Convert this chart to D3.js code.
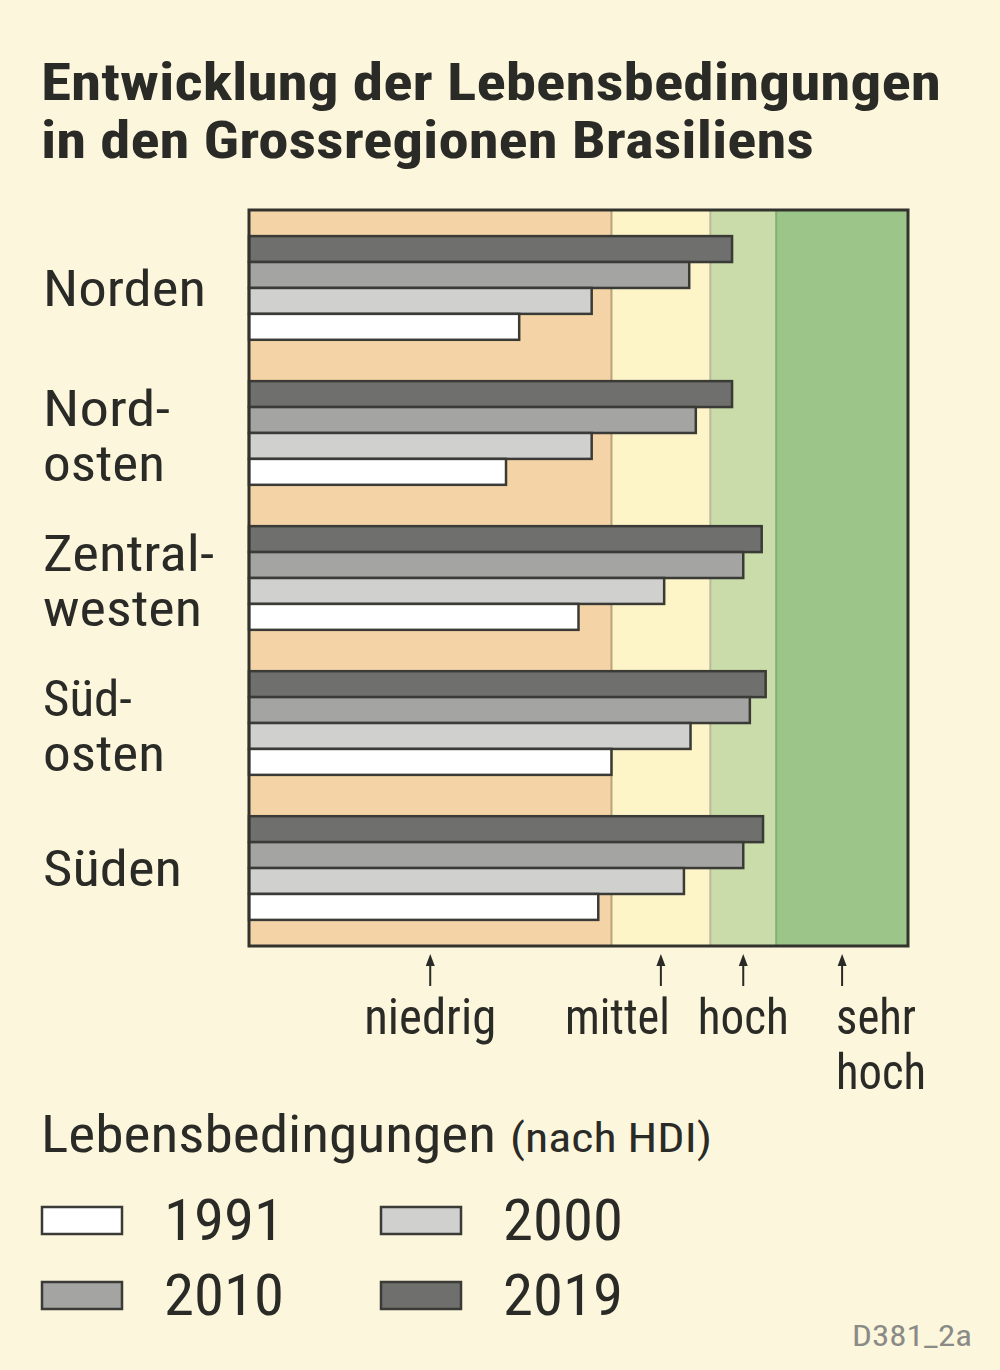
<!DOCTYPE html>
<html>
<head>
<meta charset="utf-8">
<script src="https://cdn.jsdelivr.net/npm/d3@7"></script>
<style>
  body { margin: 0; background: #fcf6dc; }
  text { font-family: "Liberation Sans Narrow", "Roboto Condensed", "DejaVu Sans Condensed", "Liberation Sans", sans-serif; fill: #2a2a26; }
</style>
</head>
<body>
<div id="container"></div>
<script>
// data (HDI values)
let regions = ["Norden", "Nordosten", "Zentralwesten", "Südosten", "Süden"];
let regionLines = [["Norden"], ["Nord-", "osten"], ["Zentral-", "westen"], ["Süd-", "osten"], ["Süden"]];
let years = ["2019", "2010", "2000", "1991"];
let hdi1991 = [0.41, 0.39, 0.50, 0.55, 0.53];
let hdi2000 = [0.52, 0.52, 0.63, 0.67, 0.66];
let hdi2010 = [0.668, 0.678, 0.750, 0.760, 0.750];
let hdi2019 = [0.733, 0.733, 0.778, 0.784, 0.780];
let zoneNames = ["niedrig", "mittel", "hoch", "sehr hoch"];
let zoneBreaks = [0, 0.55, 0.7, 0.8, 1.0];

let byYear = {"1991": hdi1991, "2000": hdi2000, "2010": hdi2010, "2019": hdi2019};
let yearColor = {"2019": "#6f6f6d", "2010": "#a4a4a3", "2000": "#d0d0cf", "1991": "#ffffff"};
let zoneColor = ["#f4d4a6", "#fdf4c8", "#c9dca9", "#9cc689"];
let zoneLine = ["#b9a27c", "#bdb99a", "#86ad72", null];

let W = 1000, H = 1370;
let plot = {left: 249, right: 908, top: 210, bottom: 946};

let svg = d3.select("#container").append("svg")
    .attr("width", W).attr("height", H);

svg.append("rect").attr("width", W).attr("height", H).attr("fill", "#fcf6dc");

// title
let title = [["Entwicklung der Lebensbedingungen", 100, 900], ["in den Grossregionen Brasiliens", 158, 773]];
svg.selectAll(".title").data(title).enter().append("text")
    .attr("class", "title")
    .attr("x", 41).attr("y", d => d[1])
    .attr("font-size", 52).attr("font-weight", "bold")
    .attr("textLength", d => d[2]).attr("lengthAdjust", "spacingAndGlyphs")
    .text(d => d[0]);

let x = d3.scaleLinear().domain([0, 1]).range([plot.left, plot.right]);
let y = d3.scaleBand().domain(regions).range([plot.top, plot.bottom])
    .paddingInner(0.285).paddingOuter(0.18);
let yInner = d3.scaleBand().domain(years).range([0, y.bandwidth()]);

// zones
let zones = zoneNames.map((n, i) => ({name: n, from: zoneBreaks[i], to: zoneBreaks[i + 1], color: zoneColor[i], line: zoneLine[i]}));
svg.selectAll(".zone").data(zones).enter().append("rect")
    .attr("x", d => x(d.from)).attr("width", d => x(d.to) - x(d.from))
    .attr("y", plot.top).attr("height", plot.bottom - plot.top)
    .attr("fill", d => d.color);
svg.selectAll(".zline").data(zones.filter(d => d.line)).enter().append("line")
    .attr("x1", d => x(d.to)).attr("x2", d => x(d.to))
    .attr("y1", plot.top).attr("y2", plot.bottom)
    .attr("stroke", d => d.line).attr("stroke-width", 2);

// bars
let groups = svg.selectAll(".grp").data(regions).enter().append("g")
    .attr("transform", d => "translate(0," + y(d) + ")");
groups.selectAll("rect").data((r, i) => years.map(yr => ({year: yr, v: byYear[yr][i]})))
  .enter().append("rect")
    .attr("x", x(0)).attr("y", d => yInner(d.year))
    .attr("width", d => x(d.v) - x(0)).attr("height", yInner.bandwidth())
    .attr("fill", d => yearColor[d.year])
    .attr("stroke", "#3a3a36").attr("stroke-width", 2.5);

// frame
svg.append("rect")
    .attr("x", plot.left).attr("y", plot.top)
    .attr("width", plot.right - plot.left).attr("height", plot.bottom - plot.top)
    .attr("fill", "none").attr("stroke", "#33332e").attr("stroke-width", 3);

// region labels
let labelWidths = [[163], [127, 122], [171, 159], [89, 122], [139]];
regionLines.forEach(function(lines, i) {
  let mid = y(regions[i]) + y.bandwidth() / 2;
  let base = lines.length == 1 ? mid + 18 : mid - 7;
  lines.forEach(function(t, j) {
    svg.append("text")
      .attr("x", 43).attr("y", base + j * 55)
      .attr("font-size", 50)
      .attr("textLength", labelWidths[i][j]).attr("lengthAdjust", "spacingAndGlyphs")
      .text(t);
  });
});

// arrows under the axis
let arrows = svg.selectAll(".arrow").data(zones).enter().append("g")
    .attr("transform", d => "translate(" + x((d.from + d.to) / 2) + ",0)");
arrows.append("line").attr("y1", 962).attr("y2", 986)
    .attr("stroke", "#2a2a26").attr("stroke-width", 2);
arrows.append("path").attr("d", "M0,954 L-4.5,966 L4.5,966 Z").attr("fill", "#2a2a26");

let zoneLabels = [
  {lines: ["niedrig"], dx: 0, anchor: "middle", w: [132]},
  {lines: ["mittel"], dx: 9, anchor: "end", w: [105]},
  {lines: ["hoch"], dx: 0, anchor: "middle", w: [91]},
  {lines: ["sehr", "hoch"], dx: -6, anchor: "start", w: [80, 90]}
];
zoneLabels.forEach(function(l, i) {
  let cx = x((zones[i].from + zones[i].to) / 2) + l.dx;
  l.lines.forEach(function(t, j) {
    svg.append("text")
      .attr("x", cx).attr("y", 1034 + j * 55)
      .attr("text-anchor", l.anchor)
      .attr("font-size", 50)
      .attr("textLength", l.w[j]).attr("lengthAdjust", "spacingAndGlyphs")
      .text(t);
  });
});

// legend
svg.append("text").attr("x", 41).attr("y", 1152).attr("font-size", 52)
    .attr("textLength", 455).attr("lengthAdjust", "spacingAndGlyphs")
    .text("Lebensbedingungen");
svg.append("text").attr("x", 510).attr("y", 1152).attr("font-size", 40)
    .attr("textLength", 202).attr("lengthAdjust", "spacingAndGlyphs")
    .text("(nach HDI)");

let legendYears = ["1991", "2000", "2010", "2019"];
let leg = svg.selectAll(".leg").data(legendYears).enter().append("g")
    .attr("transform", (d, i) => "translate(" + (i % 2 == 0 ? 42 : 381) + "," + (i < 2 ? 1207 : 1282) + ")");
leg.append("rect").attr("width", 80).attr("height", 27)
    .attr("fill", d => yearColor[d]).attr("stroke", "#3a3a36").attr("stroke-width", 2.5);
leg.append("text").attr("x", 122).attr("y", 33).attr("font-size", 58)
    .attr("textLength", 120).attr("lengthAdjust", "spacingAndGlyphs")
    .text(d => d);

svg.append("text").attr("x", 972).attr("y", 1346).attr("text-anchor", "end")
    .attr("font-size", 30).style("fill", "#8a8a86")
    .attr("textLength", 120).attr("lengthAdjust", "spacingAndGlyphs")
    .text("D381_2a");
</script>
</body>
</html>
